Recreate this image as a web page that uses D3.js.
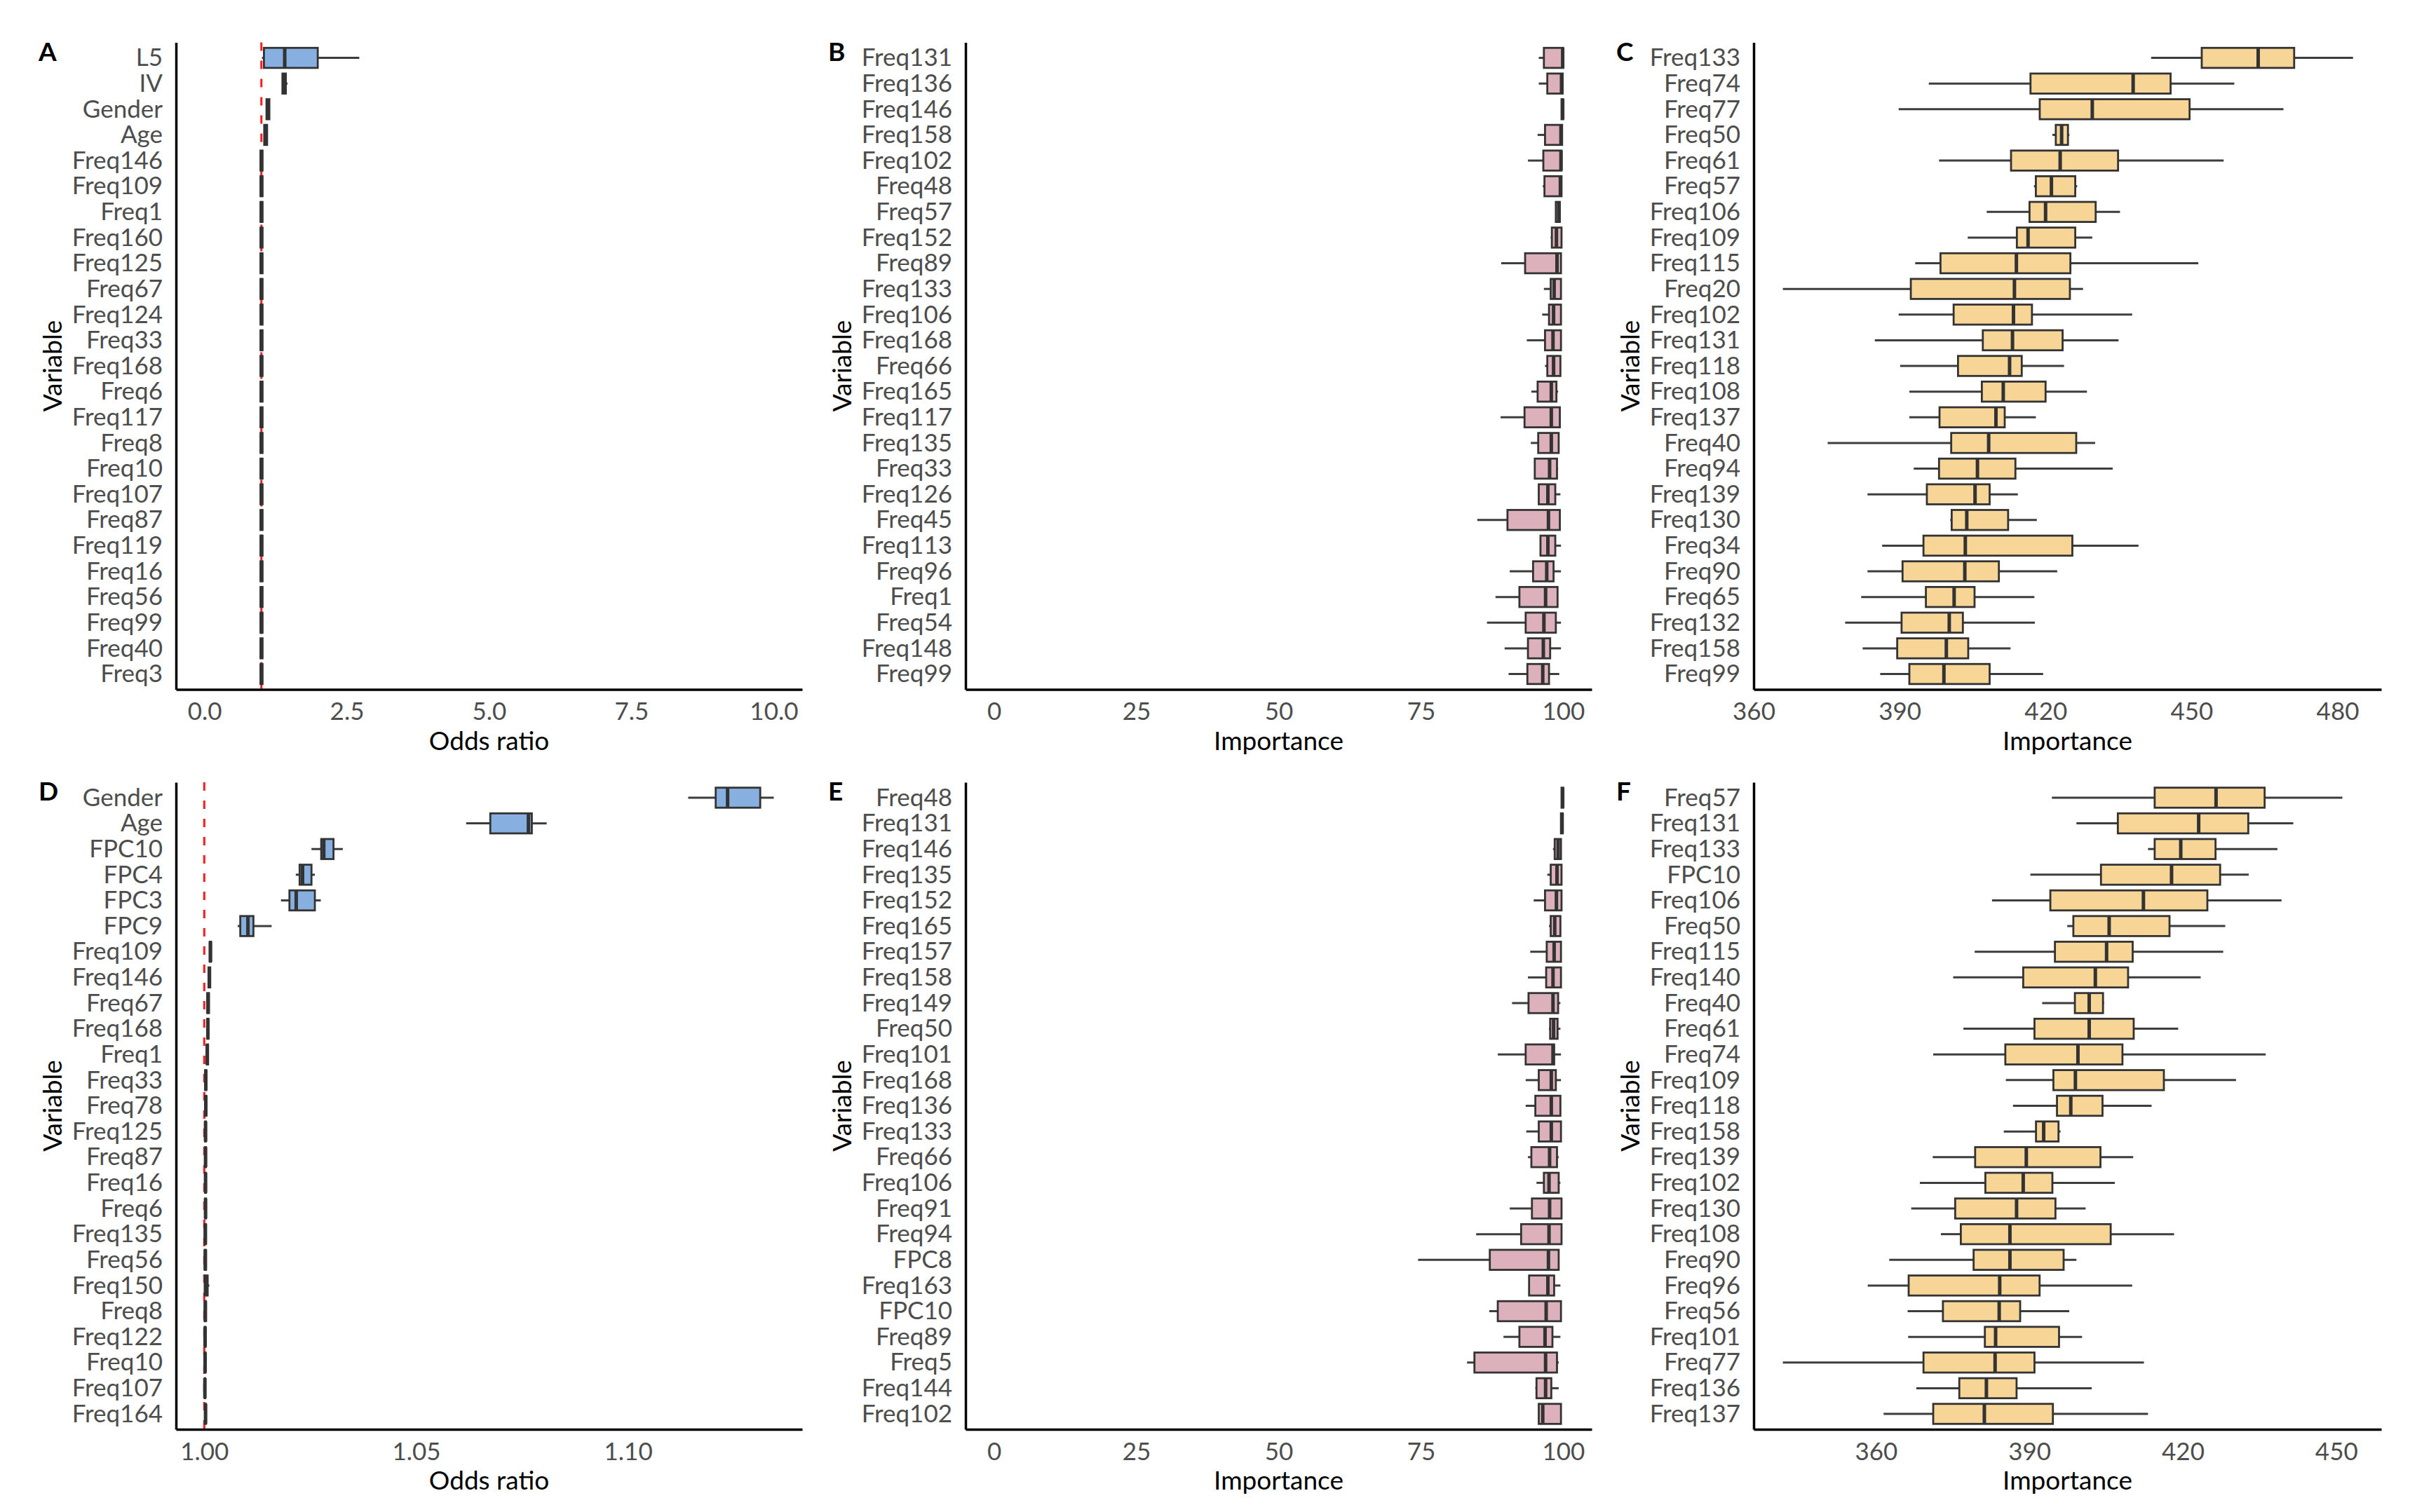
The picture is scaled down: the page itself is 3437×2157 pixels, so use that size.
<!DOCTYPE html>
<html>
<head>
<meta charset="utf-8">
<script src="https://cdn.jsdelivr.net/npm/d3@7"></script>
<style>
  body { margin: 0; background: #fff; }
  svg { display: block; font-family: Lato, "Noto Sans", sans-serif; }
</style>
</head>
<body>
<svg id="chart" width="3437" height="2157"></svg>
<script>
// ---- data: each row is [min, q1, median, q3, max] ----
const labelsA = ["L5","IV","Gender","Age","Freq146","Freq109","Freq1","Freq160","Freq125","Freq67","Freq124","Freq33","Freq168","Freq6","Freq117","Freq8","Freq10","Freq107","Freq87","Freq119","Freq16","Freq56","Freq99","Freq40","Freq3"];
const statsA = [
  [1.01,1.045,1.41,1.99,2.72],[1.36,1.37,1.40,1.43,1.46],[1.08,1.09,1.115,1.14,1.15],[1.04,1.05,1.075,1.10,1.11],
  [0.98,0.985,1.0,1.02,1.025],[0.98,0.985,1.0,1.02,1.025],[0.98,0.985,1.0,1.02,1.025],[0.98,0.985,1.0,1.02,1.025],
  [0.98,0.985,1.0,1.02,1.025],[0.98,0.985,1.0,1.02,1.025],[0.98,0.985,1.0,1.02,1.025],[0.98,0.985,1.0,1.02,1.025],
  [0.98,0.985,1.0,1.02,1.025],[0.98,0.985,1.0,1.02,1.025],[0.98,0.985,1.0,1.02,1.025],[0.98,0.985,1.0,1.02,1.025],
  [0.98,0.985,1.0,1.02,1.025],[0.98,0.985,1.0,1.02,1.025],[0.98,0.985,1.0,1.02,1.025],[0.98,0.985,1.0,1.02,1.025],
  [0.98,0.985,1.0,1.02,1.025],[0.98,0.985,1.0,1.02,1.025],[0.98,0.985,1.0,1.02,1.025],[0.98,0.985,1.0,1.02,1.025],
  [0.98,0.985,1.0,1.02,1.025]
];

const labelsB = ["Freq131","Freq136","Freq146","Freq158","Freq102","Freq48","Freq57","Freq152","Freq89","Freq133","Freq106","Freq168","Freq66","Freq165","Freq117","Freq135","Freq33","Freq126","Freq45","Freq113","Freq96","Freq1","Freq54","Freq148","Freq99"];
const statsB = [
  [95.7,96.6,99.9,100,100],[95.7,97.2,99.7,99.9,100],[99.6,99.7,99.9,100,100],[95.5,96.8,99.6,99.8,99.8],
  [93.8,96.5,99.6,99.7,99.7],[96.4,96.7,99.5,99.7,99.7],[98.6,98.7,99.2,99.4,99.4],[97.8,98.0,98.8,99.7,99.7],
  [89.1,93.3,98.9,99.6,99.6],[96.6,97.8,98.4,99.6,99.6],[96.3,97.5,98.3,99.6,99.6],[93.6,96.8,98.2,99.6,99.6],
  [96.8,97.2,98.3,99.5,99.5],[94.4,95.5,97.9,98.8,99.1],[89.0,93.2,97.9,99.4,99.4],[94.3,95.6,97.9,99.2,99.2],
  [94.9,95.0,97.6,98.9,99.1],[95.6,95.7,97.3,98.6,99.5],[84.9,90.2,97.4,99.4,99.4],[95.9,96.0,97.3,98.6,99.6],
  [90.6,94.7,97.1,98.3,99.6],[88.1,92.3,96.9,99.0,99.0],[86.6,93.4,96.6,98.7,99.6],[89.7,93.8,96.5,97.7,99.6],
  [90.4,93.7,96.4,97.5,99.3]
];

const labelsC = ["Freq133","Freq74","Freq77","Freq50","Freq61","Freq57","Freq106","Freq109","Freq115","Freq20","Freq102","Freq131","Freq118","Freq108","Freq137","Freq40","Freq94","Freq139","Freq130","Freq34","Freq90","Freq65","Freq132","Freq158","Freq99"];
const statsC = [
  [441.7,452.1,463.7,471.1,483.2],[396.0,416.9,438.0,445.7,458.8],[389.8,418.8,429.6,449.6,468.9],[421.4,422.1,423.3,424.6,424.9],
  [398.1,412.9,423.0,434.9,456.6],[417.6,418.0,421.2,426.1,426.5],[407.9,416.7,420.0,430.3,435.3],[404.0,414.1,416.4,426.1,429.6],
  [393.2,398.4,414.0,425.1,451.4],[366.0,392.3,413.6,425.0,427.7],[389.8,401.1,413.4,417.2,437.8],[384.9,407.1,413.2,423.5,435.0],
  [390.1,402.0,412.6,415.1,423.8],[392.0,406.9,411.3,420.0,428.5],[392.0,398.2,409.8,411.6,418.0],[375.2,400.6,408.3,426.3,430.2],
  [392.9,398.1,406.0,413.8,433.8],[383.4,395.6,405.5,408.5,414.3],[400.4,400.7,403.8,412.3,418.2],[386.4,394.9,403.5,425.5,439.1],
  [383.4,390.6,403.4,410.4,422.4],[382.1,395.4,401.2,405.4,417.7],[378.8,390.4,400.2,403.0,417.8],[382.4,389.5,399.6,404.1,412.8],
  [386.0,392.0,399.1,408.5,419.5]
];

const labelsD = ["Gender","Age","FPC10","FPC4","FPC3","FPC9","Freq109","Freq146","Freq67","Freq168","Freq1","Freq33","Freq78","Freq125","Freq87","Freq16","Freq6","Freq135","Freq56","Freq150","Freq8","Freq122","Freq10","Freq107","Freq164"];
const statsD = [
  [1.1142,1.1207,1.1235,1.1312,1.1344],[1.0618,1.0675,1.0765,1.0773,1.0808],[1.0253,1.0276,1.0282,1.0305,1.0327],
  [1.0216,1.0225,1.0232,1.0253,1.0261],[1.0181,1.0201,1.0217,1.0261,1.0275],[1.0079,1.0085,1.0103,1.0116,1.0159],
  [1.0012,1.0013,1.00145,1.0016,1.0017],[1.0009,1.0010,1.0012,1.0014,1.0015],[1.0006,1.0007,1.0009,1.0011,1.0012],
  [1.0006,1.0007,1.00085,1.0010,1.0011],[1.0005,1.0006,1.0007,1.0009,1.0010],[1.0001,1.0002,1.00036,1.0005,1.0006],
  [1.0001,1.0002,1.00036,1.0005,1.0006],[1.0001,1.0002,1.0003,1.0004,1.0005],[1.0001,1.0002,1.0003,1.0004,1.0005],
  [1.0001,1.0002,1.0003,1.0004,1.0005],[1.0001,1.0002,1.0003,1.0004,1.0005],[1.0000,1.0001,1.00025,1.0004,1.0005],
  [1.0000,1.0001,1.00025,1.0004,1.0005],[1.0000,1.0001,1.0005,1.0008,1.0012],[1.0000,1.0001,1.00025,1.0004,1.0005],
  [1.0000,1.0001,1.0002,1.0003,1.0004],[1.0000,1.0001,1.0002,1.0003,1.0004],[1.0000,1.0001,1.00015,1.0002,1.0003],
  [1.0001,1.0002,1.0003,1.0004,1.0005]
];

const labelsE = ["Freq48","Freq131","Freq146","Freq135","Freq152","Freq165","Freq157","Freq158","Freq149","Freq50","Freq101","Freq168","Freq136","Freq133","Freq66","Freq106","Freq91","Freq94","FPC8","Freq163","FPC10","Freq89","Freq5","Freq144","Freq102"];
const statsE = [
  [99.6,99.7,99.9,100,100],[99.6,99.6,99.8,99.9,99.9],[98.2,98.5,99.1,99.6,99.6],[97.2,97.8,98.9,99.7,99.7],
  [94.8,96.8,98.8,99.7,99.7],[97.5,97.8,98.5,99.5,99.5],[94.2,97.1,98.4,99.6,99.6],[93.8,97.0,98.2,99.6,99.6],
  [91.0,93.9,98.2,99.1,99.5],[97.5,97.7,98.3,99.0,99.5],[88.5,93.4,98.2,98.4,99.6],[93.4,95.7,97.9,98.7,99.6],
  [93.4,95.1,97.9,99.5,99.5],[93.5,95.7,97.9,99.6,99.6],[93.8,94.4,97.6,98.9,99.2],[95.3,96.6,97.5,99.2,99.5],
  [90.6,94.5,97.6,99.7,99.7],[84.7,92.6,97.5,99.7,99.7],[74.5,87.1,97.4,99.2,99.2],[93.9,94.0,97.3,98.4,99.5],
  [87.0,88.5,97.0,99.6,99.6],[89.5,92.3,96.8,98.1,99.5],[83.1,84.4,96.9,98.9,99.2],[95.1,95.3,96.9,97.9,99.2],
  [95.6,95.7,96.4,99.6,99.6]
];

const labelsF = ["Freq57","Freq131","Freq133","FPC10","Freq106","Freq50","Freq115","Freq140","Freq40","Freq61","Freq74","Freq109","Freq118","Freq158","Freq139","Freq102","Freq130","Freq108","Freq90","Freq96","Freq56","Freq101","Freq77","Freq136","Freq137"];
const statsF = [
  [394.4,414.5,426.5,436.0,451.2],[399.2,407.3,423.1,432.8,441.6],[413.2,414.5,419.6,426.4,438.5],[390.2,404.0,417.8,427.3,432.9],
  [382.7,394.1,412.3,424.8,439.3],[397.4,398.6,405.6,417.4,428.3],[379.3,395.0,405.1,410.2,427.9],[375.1,388.8,402.9,409.3,423.5],
  [392.5,398.9,401.7,404.4,404.6],[377.1,391.0,401.7,410.4,419.1],[371.2,385.3,399.5,408.2,436.2],[385.4,394.7,399.0,416.3,430.4],
  [386.8,395.4,398.1,404.3,413.9],[385.0,391.3,392.8,395.7,396.1],[371.1,379.4,389.4,403.9,410.3],[368.6,381.4,388.8,394.5,406.7],
  [366.9,375.5,387.5,395.1,401.0],[372.7,376.6,386.2,405.9,418.3],[362.6,379.1,386.2,396.7,399.2],[358.4,366.4,384.2,392.0,410.1],
  [366.2,373.1,384.1,388.2,397.8],[366.3,381.3,383.4,395.8,400.3],[341.8,369.3,383.3,391.0,412.4],[367.9,376.3,381.6,387.5,402.2],
  [361.5,371.2,381.2,394.6,413.2]
];

// tick values for the x axes
const ticksOdds = [0, 2.5, 5, 7.5, 10];
const ticksImp = [0, 25, 50, 75, 100];
const ticksC = [360, 390, 420, 450, 480];
const ticksOddsD = [1.00, 1.05, 1.10];
const ticksF = [360, 390, 420, 450];

// ---- layout ----
const blue = "#87afdf", pink = "#dcb1bb", orange = "#f7d597";
const rowTop = [60.6, 1116], rowBot = [983.5, 2039];
const colL = [251, 1377, 2501], colR = [1144, 2270, 3396];

const panels = [
  { letter: "A", labels: labelsA, stats: statsA, domain: [-0.5, 10.5], ticks: ticksOdds, fmt: d3.format(".1f"), title: "Odds ratio", fill: blue, col: 0, row: 0, ref: 1 },
  { letter: "B", labels: labelsB, stats: statsB, domain: [-5, 105], ticks: ticksImp, fmt: d3.format("d"), title: "Importance", fill: pink, col: 1, row: 0 },
  { letter: "C", labels: labelsC, stats: statsC, domain: [360, 489], ticks: ticksC, fmt: d3.format("d"), title: "Importance", fill: orange, col: 2, row: 0 },
  { letter: "D", labels: labelsD, stats: statsD, domain: [0.99333, 1.1411], ticks: ticksOddsD, fmt: d3.format(".2f"), title: "Odds ratio", fill: blue, col: 0, row: 1, ref: 1 },
  { letter: "E", labels: labelsE, stats: statsE, domain: [-5, 105], ticks: ticksImp, fmt: d3.format("d"), title: "Importance", fill: pink, col: 1, row: 1 },
  { letter: "F", labels: labelsF, stats: statsF, domain: [336.1, 458.8], ticks: ticksF, fmt: d3.format("d"), title: "Importance", fill: orange, col: 2, row: 1 }
];

const svg = d3.select("#chart");

panels.forEach(p => {
  const x0 = colL[p.col], x1 = colR[p.col];
  const y0 = rowTop[p.row], y1 = rowBot[p.row];
  const g = svg.append("g");

  const x = d3.scaleLinear().domain(p.domain).range([x0, x1]);
  const y = d3.scalePoint().domain(p.labels).range([y0, y1]).padding(0.6);
  const boxH = y.step() * 0.78;

  // reference line at odds ratio 1
  if (p.ref !== undefined) {
    g.append("line")
      .attr("x1", x(p.ref)).attr("x2", x(p.ref))
      .attr("y1", y0).attr("y2", y1)
      .attr("stroke", "#ff1a1a").attr("stroke-width", 3)
      .attr("stroke-dasharray", "12,14");
  }

  const rows = p.labels.map((name, i) => ({ name, s: p.stats[i] }));
  const box = g.selectAll(".box").data(rows).enter().append("g").attr("class", "box");

  // whiskers
  box.append("line")
    .attr("x1", d => x(d.s[0])).attr("x2", d => x(d.s[1]))
    .attr("y1", d => y(d.name)).attr("y2", d => y(d.name))
    .attr("stroke", "#3d3d3d").attr("stroke-width", 3);
  box.append("line")
    .attr("x1", d => x(d.s[3])).attr("x2", d => x(d.s[4]))
    .attr("y1", d => y(d.name)).attr("y2", d => y(d.name))
    .attr("stroke", "#3d3d3d").attr("stroke-width", 3);

  // boxes
  box.append("rect")
    .attr("x", d => x(d.s[1]))
    .attr("y", d => y(d.name) - boxH / 2)
    .attr("width", d => Math.max(0, x(d.s[3]) - x(d.s[1])))
    .attr("height", boxH)
    .attr("fill", p.fill)
    .attr("stroke", "#333").attr("stroke-width", 2.8);

  // medians
  box.append("line")
    .attr("x1", d => x(d.s[2])).attr("x2", d => x(d.s[2]))
    .attr("y1", d => y(d.name) - boxH / 2).attr("y2", d => y(d.name) + boxH / 2)
    .attr("stroke", "#333").attr("stroke-width", 5);

  // x axis
  const xa = g.append("g")
    .attr("transform", "translate(0," + y1 + ")")
    .call(d3.axisBottom(x).tickValues(p.ticks).tickFormat(p.fmt).tickSize(0).tickSizeOuter(0).tickPadding(19));
  xa.select(".domain").attr("stroke", "#000").attr("stroke-width", 3.5);
  xa.selectAll("text").attr("font-size", 35).attr("fill", "#4d4d4d").attr("font-family", "Lato");

  // y axis
  const ya = g.append("g")
    .attr("transform", "translate(" + x0 + ",0)")
    .call(d3.axisLeft(y).tickSize(0).tickSizeOuter(0).tickPadding(19));
  ya.select(".domain").attr("stroke", "#000").attr("stroke-width", 3.5);
  ya.selectAll("text").attr("font-size", 35).attr("fill", "#4d4d4d").attr("font-family", "Lato");

  // axis titles
  g.append("text")
    .attr("x", (x0 + x1) / 2).attr("y", y1 + 86)
    .attr("text-anchor", "middle")
    .attr("font-size", 37).attr("fill", "#000")
    .text(p.title);

  g.append("text")
    .attr("transform", "translate(" + (x0 - 163) + "," + ((y0 + y1) / 2) + ") rotate(-90)")
    .attr("text-anchor", "middle")
    .attr("font-size", 37).attr("fill", "#000")
    .text("Variable");

  // panel letter
  g.append("text")
    .attr("x", x0 - 196).attr("y", y0 + 26)
    .attr("font-size", 37).attr("font-weight", "bold").attr("fill", "#000")
    .text(p.letter);
});
</script>
</body>
</html>
